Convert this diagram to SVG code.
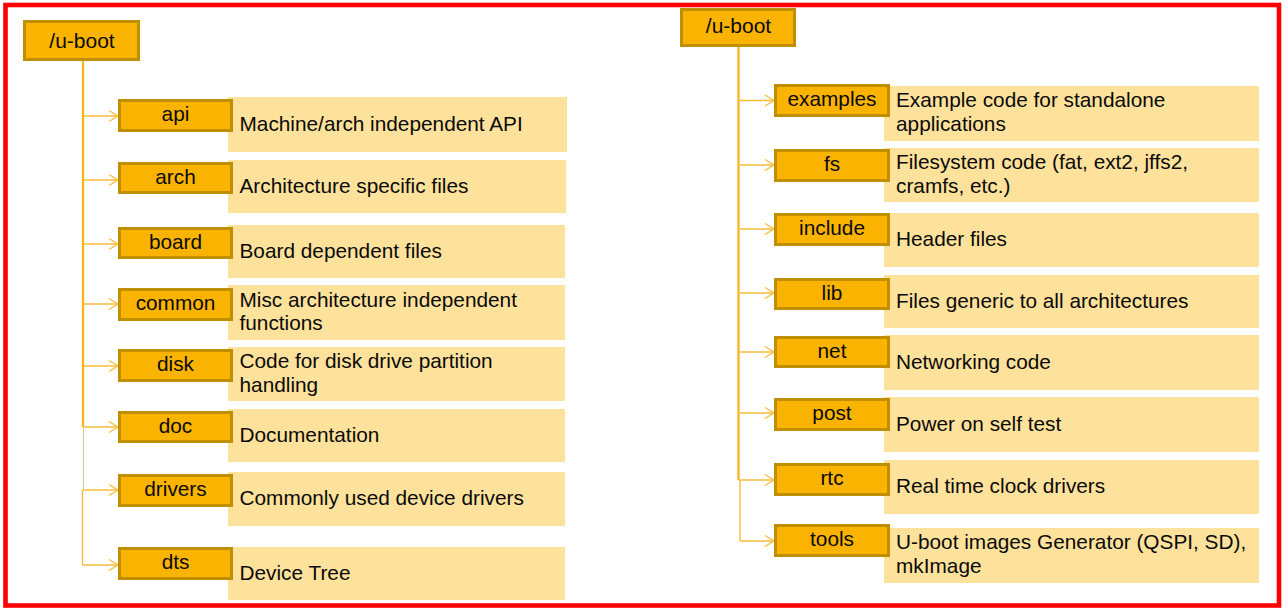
<svg xmlns="http://www.w3.org/2000/svg" width="1288" height="610" viewBox="0 0 1288 610">
<defs>
<style>
.frame{fill:none;stroke:#FF0000;stroke-width:4.6}
.box{fill:#FAB400;stroke:#BF8F00;stroke-width:3}
.desc{fill:#FEE29B}
.lbl{font-family:"Liberation Sans",Arial,sans-serif;font-size:20.8px;fill:#0A0A0A;text-anchor:middle}
.txt{font-family:"Liberation Sans",Arial,sans-serif;font-size:20.8px;fill:#0A0A0A}
.root{font-family:"Liberation Sans",Arial,sans-serif;font-size:21px;fill:#0A0A0A;text-anchor:middle}
.trunk{fill:none;stroke:#F9B41E;stroke-width:2.3}
.thin{fill:none;stroke:#F9B62A;stroke-width:1.3}
.gray{fill:none;stroke:#D8C594;stroke-width:1}
.branch{fill:none;stroke:#F9BC3A;stroke-width:1.3;marker-end:url(#chev)}
</style>
<marker id="chev" markerWidth="12" markerHeight="14" refX="10" refY="7" orient="auto" markerUnits="userSpaceOnUse">
<path d="M1,1.5 L10,7 L1,12.5" fill="none" stroke="#F9BC3A" stroke-width="1.3"/>
</marker>
</defs>
<rect width="1288" height="610" fill="#FFFFFF"/>
<rect class="frame" x="5.5" y="5" width="1273.5" height="600.5"/>

<g id="connectors">
<path class="trunk" d="M83,61 V427"/>
<path class="gray" d="M83.5,427 V490"/>
<path class="thin" d="M82.5,490 V565"/>
<path class="branch" d="M83,116 H118"/>
<path class="branch" d="M83,180 H118"/>
<path class="branch" d="M83,244 H118"/>
<path class="branch" d="M83,304 H118"/>
<path class="branch" d="M83,366 H118"/>
<path class="branch" d="M83,427 H118"/>
<path class="branch" d="M82.5,490 H118"/>
<path class="branch" d="M82.5,565 H118"/>
<path class="trunk" d="M738.5,47 V480"/>
<path class="thin" d="M740,480 V541"/>
<path class="branch" d="M738.5,100.5 H774"/>
<path class="branch" d="M738.5,165 H774"/>
<path class="branch" d="M738.5,229 H774"/>
<path class="branch" d="M738.5,293 H774"/>
<path class="branch" d="M738.5,352 H774"/>
<path class="branch" d="M738.5,413 H774"/>
<path class="branch" d="M738.5,480 H774"/>
<path class="branch" d="M740,541 H774"/>
</g>

<g id="root-left">
<rect class="box" x="24.5" y="21.5" width="114" height="38"/>
<text class="root" x="82" y="48">/u-boot</text>
</g>
<g id="root-right">
<rect class="box" x="681.5" y="9.5" width="113" height="36"/>
<text class="root" x="738.5" y="33">/u-boot</text>
</g>

<g id="node-api">
<rect class="desc" x="228" y="97" width="339" height="55"/>
<rect class="box" x="119.5" y="100.5" width="112" height="30"/>
<text class="lbl" x="175.5" y="121">api</text>
<text class="txt" x="239.5" y="130.5">Machine/arch independent API</text>
</g>
<g id="node-arch">
<rect class="desc" x="228" y="160" width="338" height="53"/>
<rect class="box" x="119.5" y="163.5" width="112" height="29"/>
<text class="lbl" x="175.5" y="183.5">arch</text>
<text class="txt" x="239.5" y="192.5">Architecture specific files</text>
</g>
<g id="node-board">
<rect class="desc" x="228" y="225" width="337" height="53"/>
<rect class="box" x="119.5" y="228.5" width="112" height="29"/>
<text class="lbl" x="175.5" y="248.5">board</text>
<text class="txt" x="239.5" y="257.5">Board dependent files</text>
</g>
<g id="node-common">
<rect class="desc" x="228" y="285" width="337" height="55"/>
<rect class="box" x="119.5" y="289.5" width="112" height="30"/>
<text class="lbl" x="175.5" y="310">common</text>
<text class="txt" x="239.5" y="306.5">Misc architecture independent</text>
<text class="txt" x="239.5" y="330">functions</text>
</g>
<g id="node-disk">
<rect class="desc" x="228" y="347" width="337" height="54"/>
<rect class="box" x="119.5" y="350.5" width="112" height="30"/>
<text class="lbl" x="175.5" y="371">disk</text>
<text class="txt" x="239.5" y="368">Code for disk drive partition</text>
<text class="txt" x="239.5" y="391.5">handling</text>
</g>
<g id="node-doc">
<rect class="desc" x="228" y="409" width="337" height="53"/>
<rect class="box" x="119.5" y="412.5" width="112" height="29"/>
<text class="lbl" x="175.5" y="432.5">doc</text>
<text class="txt" x="239.5" y="441.5">Documentation</text>
</g>
<g id="node-drivers">
<rect class="desc" x="228" y="472" width="337" height="54"/>
<rect class="box" x="119.5" y="475.5" width="112" height="30"/>
<text class="lbl" x="175.5" y="496">drivers</text>
<text class="txt" x="239.5" y="505">Commonly used device drivers</text>
</g>
<g id="node-dts">
<rect class="desc" x="228" y="547" width="337" height="53"/>
<rect class="box" x="119.5" y="548.5" width="112" height="30"/>
<text class="lbl" x="175.5" y="569">dts</text>
<text class="txt" x="239.5" y="579.5">Device Tree</text>
</g>

<g id="node-examples">
<rect class="desc" x="884" y="86" width="375" height="55"/>
<rect class="box" x="775.5" y="85.5" width="113" height="30"/>
<text class="lbl" x="832" y="106">examples</text>
<text class="txt" x="896" y="107">Example code for standalone</text>
<text class="txt" x="896" y="130.5">applications</text>
</g>
<g id="node-fs">
<rect class="desc" x="884" y="148" width="375" height="54"/>
<rect class="box" x="775.5" y="150.5" width="113" height="30"/>
<text class="lbl" x="832" y="171">fs</text>
<text class="txt" x="896" y="169">Filesystem code (fat, ext2, jffs2,</text>
<text class="txt" x="896" y="192.5">cramfs, etc.)</text>
</g>
<g id="node-include">
<rect class="desc" x="884" y="213" width="375" height="54"/>
<rect class="box" x="775.5" y="214.5" width="113" height="30"/>
<text class="lbl" x="832" y="235">include</text>
<text class="txt" x="896" y="246">Header files</text>
</g>
<g id="node-lib">
<rect class="desc" x="884" y="275" width="375" height="53"/>
<rect class="box" x="775.5" y="279.5" width="113" height="29"/>
<text class="lbl" x="832" y="299.5">lib</text>
<text class="txt" x="896" y="307.5">Files generic to all architectures</text>
</g>
<g id="node-net">
<rect class="desc" x="884" y="335" width="375" height="55"/>
<rect class="box" x="775.5" y="337.5" width="113" height="29"/>
<text class="lbl" x="832" y="357.5">net</text>
<text class="txt" x="896" y="368.5">Networking code</text>
</g>
<g id="node-post">
<rect class="desc" x="884" y="397" width="375" height="55"/>
<rect class="box" x="775.5" y="399.5" width="113" height="30"/>
<text class="lbl" x="832" y="420">post</text>
<text class="txt" x="896" y="430.5">Power on self test</text>
</g>
<g id="node-rtc">
<rect class="desc" x="884" y="460" width="375" height="54"/>
<rect class="box" x="775.5" y="464.5" width="113" height="30"/>
<text class="lbl" x="832" y="485">rtc</text>
<text class="txt" x="896" y="493">Real time clock drivers</text>
</g>
<g id="node-tools">
<rect class="desc" x="884" y="528" width="375" height="55"/>
<rect class="box" x="775.5" y="525.5" width="113" height="30"/>
<text class="lbl" x="832" y="546">tools</text>
<text class="txt" x="896" y="549">U-boot images Generator (QSPI, SD),</text>
<text class="txt" x="896" y="572.5">mkImage</text>
</g>
</svg>
